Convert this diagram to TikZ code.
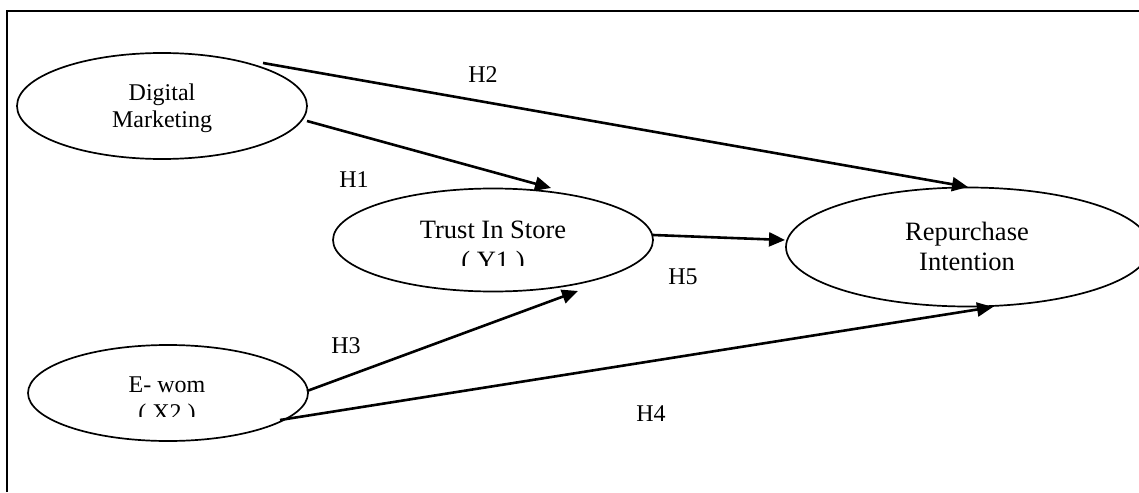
\documentclass[tikz,border=0pt]{standalone}
\usepackage{fontspec}
\setmainfont{Liberation Serif}
\usetikzlibrary{arrows.meta,calc,shapes.geometric}
\begin{document}
\begin{tikzpicture}[x=1pt,y=-1pt,
  ell/.style={draw, ellipse, line width=1.7pt, inner sep=0pt, outer sep=0pt},
  small/.style={font=\fontsize{24}{28}\selectfont, inner sep=0pt, anchor=base},
  big/.style={font=\fontsize{26.5}{30}\selectfont, inner sep=0pt, anchor=base},
  link/.style={line width=2.6pt, -{Triangle[length=16pt,width=14pt]}},
]
\useasboundingbox (0,0) rectangle (1139,492);
% frame
\draw[line width=2pt] (7,492) -- (7,11) -- (1139,11);

% ellipses
\node[ell, minimum width=290pt, minimum height=106pt] (dm) at (162,106) {};
\node[ell, minimum width=320pt, minimum height=103pt] (ts) at (493,240) {};
\node[ell, minimum width=280pt, minimum height=96pt] (ew) at (168,393) {};
\node[ell, minimum width=364pt, minimum height=119pt] (ri) at (968,247) {};

% texts
\node[small] (dm1) at (162,100) {Digital};
\node[small] (dm2) at (162,128) {Marketing};
\node[big] (ts1) at (493,238) {Trust In Store};
\begin{scope}
  \clip (420,240) rectangle (570,265);
  \node[big] (ts2) at (493,269) {( Y1 )};
\end{scope}
\node[small] (ew1) at (167,392) {E- wom};
\begin{scope}
  \clip (110,400) rectangle (230,416.7);
  \node[small] (ew2) at (167,420) {( X2 )};
\end{scope}
\node[big] (ri1) at (967,240) {Repurchase};
\node[big] (ri2) at (967,270) {Intention};

% hypothesis labels
\node[small] (h2) at (483,83) {H2};
\node[small] (h1) at (354,187) {H1};
\node[small] (h5) at (683,284) {H5};
\node[small] (h3) at (346,353) {H3};
\node[small] (h4) at (651,421) {H4};

% connectors
\draw[link] ($(dm.center)+(101,-43)$) -- ($(ri.center)+(0,-60)$);
\draw[link] ($(dm.center)+(145,15)$) -- ($(ts.center)+(58,-52)$);
\draw[link] ($(ts.center)+(160,-5)$) -- ($(ri.center)+(-183,-7)$);
\draw[link] ($(ew.center)+(139,-2)$) -- ($(ts.center)+(85,51)$);
\draw[link] ($(ew.center)+(112,27)$) -- ($(ri.center)+(25,60)$);
\end{tikzpicture}
\end{document}
